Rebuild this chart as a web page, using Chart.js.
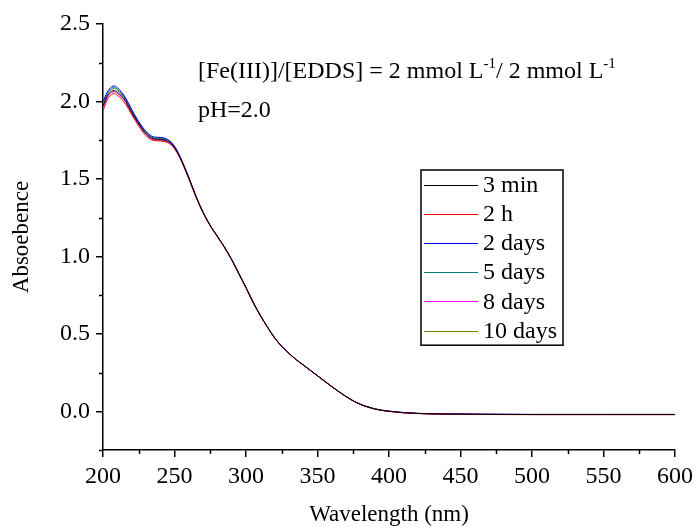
<!DOCTYPE html>
<html><head><meta charset="utf-8">
<script src="https://cdn.jsdelivr.net/npm/chart.js@4"></script>
<style>html,body{margin:0;padding:0;background:#fff}#wrap{width:698px;height:529px}</style>
</head><body><div id="wrap"><canvas id="c" width="698" height="529"></canvas></div>
<script>
const wavelengths = [200,203,206,208,210,213,216,220,224,228,232,236,240,244,248,252,256,260,265,270,275,280,285,290,295,300,305,310,315,320,325,330,335,340,345,350,355,360,365,370,375,380,385,390,395,400,410,420,440,470,500,550,600];
const abs3min = [1.97,2.035,2.065,2.07,2.06,2.035,2.0,1.93,1.87,1.815,1.775,1.757,1.755,1.748,1.725,1.672,1.595,1.505,1.387,1.283,1.198,1.128,1.058,0.978,0.888,0.798,0.703,0.618,0.543,0.474,0.419,0.374,0.334,0.299,0.264,0.229,0.194,0.159,0.126,0.095,0.067,0.045,0.028,0.015,0.006,0.0,-0.009,-0.014,-0.018,-0.02,-0.021,-0.021,-0.021];
const abs2h = [1.94,2.01,2.045,2.05,2.04,2.015,1.98,1.915,1.855,1.80,1.763,1.747,1.745,1.738,1.717,1.665,1.59,1.50,1.383,1.28,1.196,1.126,1.056,0.976,0.886,0.796,0.702,0.617,0.542,0.473,0.418,0.373,0.333,0.298,0.263,0.228,0.193,0.158,0.125,0.094,0.066,0.044,0.027,0.014,0.005,-0.001,-0.01,-0.015,-0.019,-0.021,-0.022,-0.022,-0.022];
const abs2days = [2.00,2.06,2.095,2.10,2.09,2.06,2.02,1.95,1.885,1.83,1.79,1.77,1.768,1.76,1.735,1.68,1.60,1.51,1.39,1.285,1.20,1.13,1.06,0.98,0.89,0.80,0.705,0.62,0.545,0.475,0.42,0.375,0.335,0.30,0.265,0.23,0.195,0.16,0.127,0.096,0.068,0.046,0.029,0.016,0.007,0.001,-0.008,-0.013,-0.017,-0.019,-0.02,-0.02,-0.02];
const abs5days = [1.99,2.05,2.085,2.09,2.08,2.052,2.013,1.943,1.879,1.825,1.785,1.765,1.763,1.755,1.731,1.677,1.598,1.508,1.389,1.284,1.199,1.129,1.059,0.979,0.889,0.799,0.704,0.619,0.544,0.474,0.419,0.374,0.334,0.299,0.264,0.229,0.194,0.159,0.126,0.095,0.067,0.045,0.028,0.015,0.006,0.0,-0.009,-0.014,-0.018,-0.02,-0.021,-0.021,-0.021];
const abs8days = [1.96,2.025,2.058,2.063,2.053,2.028,1.993,1.925,1.865,1.81,1.77,1.752,1.75,1.744,1.722,1.67,1.594,1.504,1.386,1.282,1.198,1.128,1.058,0.978,0.888,0.798,0.703,0.618,0.543,0.474,0.419,0.374,0.334,0.299,0.264,0.229,0.194,0.159,0.126,0.095,0.067,0.045,0.028,0.015,0.006,0.0,-0.009,-0.014,-0.018,-0.02,-0.021,-0.021,-0.021];
const abs10days = [1.98,2.045,2.078,2.083,2.073,2.046,2.008,1.938,1.875,1.821,1.781,1.762,1.76,1.752,1.728,1.675,1.597,1.507,1.388,1.284,1.199,1.129,1.059,0.979,0.889,0.799,0.704,0.619,0.544,0.474,0.419,0.374,0.334,0.299,0.264,0.229,0.194,0.159,0.126,0.095,0.067,0.045,0.028,0.015,0.006,0.0,-0.009,-0.014,-0.018,-0.02,-0.021,-0.021,-0.021];
const seriesLabels = ['3 min','2 h','2 days','5 days','8 days','10 days'];
const seriesValues = [abs3min, abs2h, abs2days, abs5days, abs8days, abs10days];
const seriesColors = ['#000000','#FF0000','#0000FF','#008080','#FF00FF','#808000'];
const xTickValues = [200,250,300,350,400,450,500,550,600];
const yTickValues = [0,0.5,1.0,1.5,2.0,2.5];
const xTitle = 'Wavelength (nm)';
const yTitle = 'Absoebence';
const noteLine1 = [['[Fe(III)]/[EDDS] = 2 mmol L',false],['-1',true],['/ 2 mmol L',false],['-1',true]];
const noteLine2 = 'pH=2.0';

const FONT = "'Liberation Serif', 'Times New Roman', serif";

const datasets = seriesLabels.map((lab, i) => ({
  label: lab,
  data: wavelengths.map((w, j) => ({x: w, y: seriesValues[i][j]})),
  borderColor: seriesColors[i],
  borderWidth: 1,
  pointRadius: 0,
  fill: false,
  cubicInterpolationMode: 'monotone'
}));

const extras = {
  id: 'extras',
  afterDraw(chart) {
    const ctx = chart.ctx;
    const xs = chart.scales.x, ys = chart.scales.y;
    const area = chart.chartArea;
    ctx.save();
    // minor ticks
    ctx.strokeStyle = '#000';
    ctx.lineWidth = 1.5;
    ctx.beginPath();
    for (let v = 225; v < 600; v += 50) {
      const px = Math.round(xs.getPixelForValue(v)) + 0.5;
      ctx.moveTo(px, area.bottom); ctx.lineTo(px, area.bottom + 4);
    }
    for (let v = -0.25; v < 2.5; v += 0.5) {
      const py = Math.round(ys.getPixelForValue(v)) + 0.5;
      ctx.moveTo(area.left, py); ctx.lineTo(area.left - 4, py);
    }
    ctx.stroke();
    // annotation
    ctx.fillStyle = '#000';
    ctx.textBaseline = 'alphabetic';
    ctx.textAlign = 'left';
    let x = 198, y = 78;
    for (const [t, sup] of noteLine1) {
      ctx.font = (sup ? '15px ' : '24px ') + FONT;
      ctx.fillText(t, x, sup ? y - 10 : y);
      x += ctx.measureText(t).width;
    }
    ctx.font = '24px ' + FONT;
    ctx.fillText(noteLine2, 198, 117);
    // legend
    const L = 421, T = 170, W = 142, rowH = 29.2;
    ctx.lineWidth = 1.5;
    ctx.strokeStyle = '#000';
    ctx.strokeRect(L, T, W, rowH * seriesLabels.length);
    ctx.font = '24px ' + FONT;
    ctx.textBaseline = 'middle';
    seriesLabels.forEach((lab, i) => {
      const cy = T + rowH * (i + 0.5);
      ctx.strokeStyle = seriesColors[i];
      ctx.lineWidth = 1;
      ctx.beginPath();
      ctx.moveTo(424, Math.round(cy) + 0.5); ctx.lineTo(478, Math.round(cy) + 0.5);
      ctx.stroke();
      ctx.fillText(lab, 483, cy + 1);
    });
    ctx.restore();
  }
};

new Chart(document.getElementById('c'), {
  type: 'line',
  data: { datasets },
  options: {
    responsive: false,
    animation: false,
    devicePixelRatio: 1,
    layout: { padding: { top: 24, right: 19, left: 0, bottom: 0 } },
    plugins: { legend: { display: false }, tooltip: { enabled: false } },
    scales: {
      x: {
        type: 'linear', min: 200, max: 600,
        afterBuildTicks: s => { s.ticks = xTickValues.map(v => ({value: v})); },
        afterFit: s => { s.height = 79; },
        ticks: { color: '#000', font: { family: FONT, size: 24 }, padding: 5, maxRotation: 0, callback: v => String(v) },
        grid: { drawOnChartArea: false, drawTicks: true, tickLength: 7, color: '#000', tickWidth: 1.5, lineWidth: 1.5 },
        border: { display: true, color: '#000', width: 1.5 },
        title: { display: true, text: xTitle, color: '#000', font: { family: FONT, size: 23 }, padding: { top: 0, bottom: 0 } }
      },
      y: {
        type: 'linear', min: -0.25, max: 2.5,
        afterBuildTicks: s => { s.ticks = yTickValues.map(v => ({value: v})); },
        afterFit: s => { s.width = 103; },
        ticks: { color: '#000', font: { family: FONT, size: 24 }, padding: 6, callback: v => Number(v).toFixed(1) },
        grid: { drawOnChartArea: false, drawTicks: true, tickLength: 7, color: '#000', tickWidth: 1.5, lineWidth: 1.5 },
        border: { display: true, color: '#000', width: 1.5 },
        title: { display: true, text: yTitle, color: '#000', font: { family: FONT, size: 23 }, padding: { top: 8, bottom: 0 } }
      }
    }
  },
  plugins: [extras]
});
</script></body></html>
